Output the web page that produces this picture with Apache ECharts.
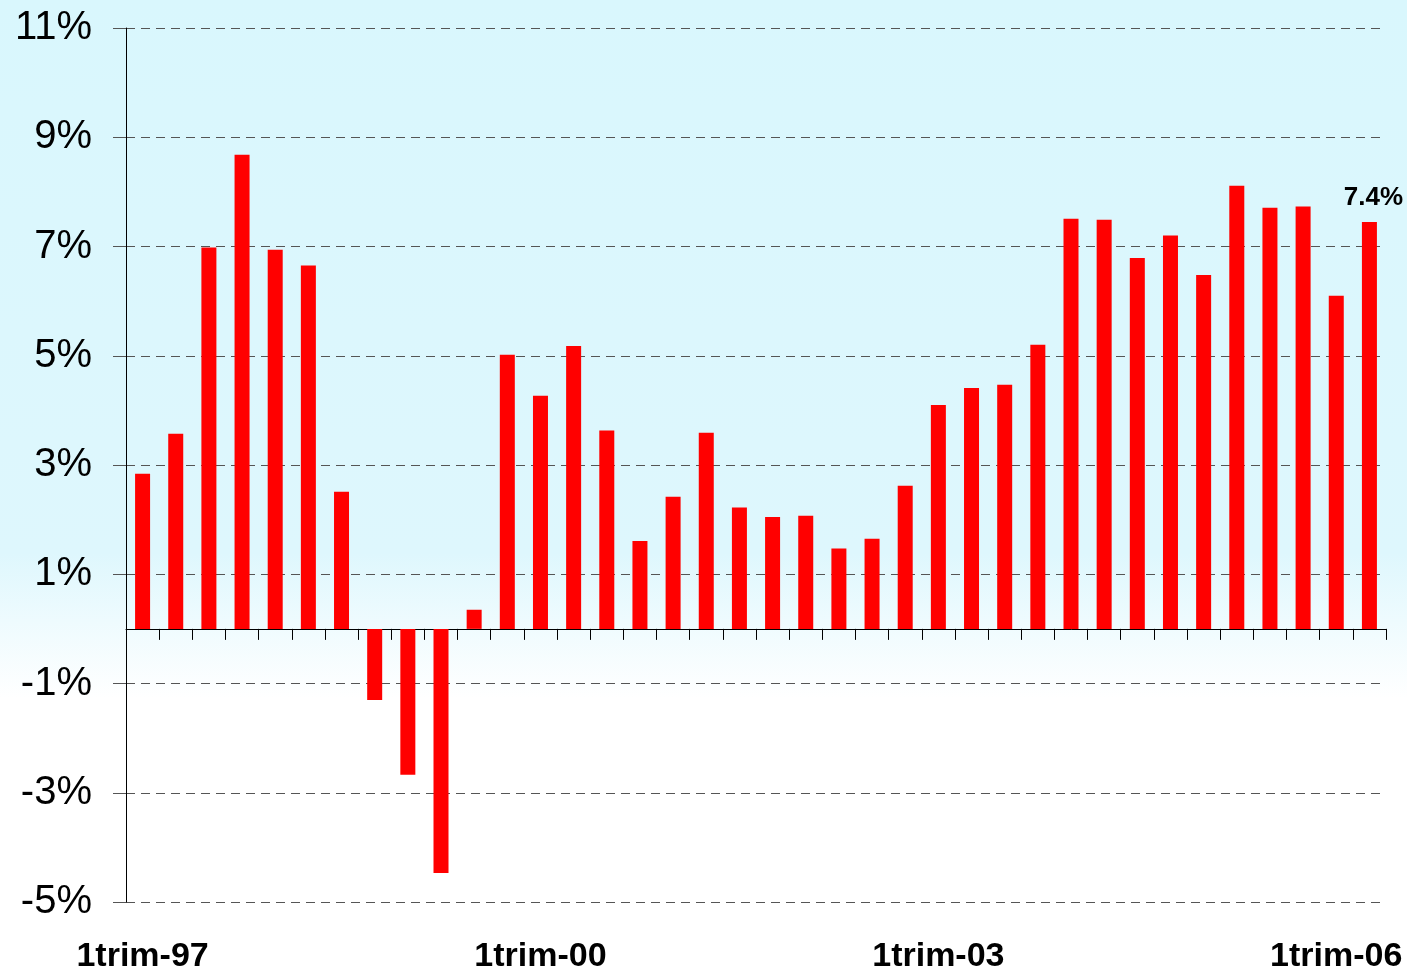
<!DOCTYPE html>
<html>
<head>
<meta charset="utf-8">
<script src="https://cdn.jsdelivr.net/npm/echarts@6/dist/echarts.min.js"></script>
<style>
  html, body { margin: 0; padding: 0; background: #fff; }
  #chart { width: 1407px; height: 970px; }
</style>
</head>
<body>
<div id="chart"></div>
<script>
// quarters 1trim-97 .. 2trim-06
const quarters = [
  "1trim-97", "2trim-97", "3trim-97", "4trim-97",
  "1trim-98", "2trim-98", "3trim-98", "4trim-98",
  "1trim-99", "2trim-99", "3trim-99", "4trim-99",
  "1trim-00", "2trim-00", "3trim-00", "4trim-00",
  "1trim-01", "2trim-01", "3trim-01", "4trim-01",
  "1trim-02", "2trim-02", "3trim-02", "4trim-02",
  "1trim-03", "2trim-03", "3trim-03", "4trim-03",
  "1trim-04", "2trim-04", "3trim-04", "4trim-04",
  "1trim-05", "2trim-05", "3trim-05", "4trim-05",
  "1trim-06", "2trim-06"
];
// growth rate, %
const growth = [
  2.84, 3.57, 6.98, 8.68, 6.94, 6.65, 2.51, -1.30, -2.67, -4.47,
  0.35, 5.02, 4.27, 5.18, 3.63, 1.61, 2.42, 3.59, 2.22, 2.05,
  2.07, 1.47, 1.65, 2.62, 4.10, 4.41, 4.47, 5.20, 7.51, 7.49,
  6.79, 7.20, 6.48, 8.11, 7.71, 7.73, 6.10, 7.45
];
const shownLabels = ["1trim-97", "1trim-00", "1trim-03", "1trim-06"];
const lastLabel = "7.4%";

const chart = echarts.init(document.getElementById("chart"));
chart.setOption({
  backgroundColor: new echarts.graphic.LinearGradient(0, 0, 0, 1, [
    { offset: 0, color: "#d9f7fd" },
    { offset: 0.57, color: "#def7fd" },
    { offset: 0.64, color: "#eefbfe" },
    { offset: 0.72, color: "#ffffff" },
    { offset: 1, color: "#ffffff" }
  ]),
  textStyle: { fontFamily: "Liberation Sans, Arial, sans-serif" },
  grid: { left: 126, right: 21, top: 28, bottom: 68, outerBoundsMode: "none", containLabel: false },
  xAxis: {
    type: "category",
    data: quarters,
    axisLine: { onZero: true, lineStyle: { color: "#000", width: 1 } },
    axisTick: { show: true, length: 11, interval: 0, lineStyle: { color: "#000" } },
    axisLabel: {
      interval: 0,
      formatter: v => (shownLabels.includes(v) ? v : ""),
      color: "#000",
      fontSize: 34,
      fontWeight: "bold",
      fontFamily: "Liberation Sans, Arial, sans-serif",
      margin: 38
    }
  },
  yAxis: {
    type: "value",
    min: -5,
    max: 11,
    interval: 2,
    axisLine: { show: true, lineStyle: { color: "#000", width: 1 } },
    axisTick: { show: true, inside: false, length: 13, lineStyle: { color: "#555" } },
    axisLabel: {
      formatter: v => v + "%",
      color: "#000",
      fontSize: 40,
      fontFamily: "Liberation Sans, Arial, sans-serif",
      margin: 34
    },
    splitLine: { show: true, lineStyle: { color: "#555", type: [9, 6], width: 1 } }
  },
  series: [
    {
      type: "bar",
      data: growth.map((v, i) => ({
        value: v,
        label: {
          show: i === growth.length - 1,
          formatter: lastLabel,
          position: "top",
          distance: 11,
          offset: [4, 0],
          color: "#000",
          fontSize: 26,
          fontWeight: "bold"
        }
      })),
      barWidth: 15,
      itemStyle: { color: "#ff0000" }
    }
  ]
});
</script>
</body>
</html>
